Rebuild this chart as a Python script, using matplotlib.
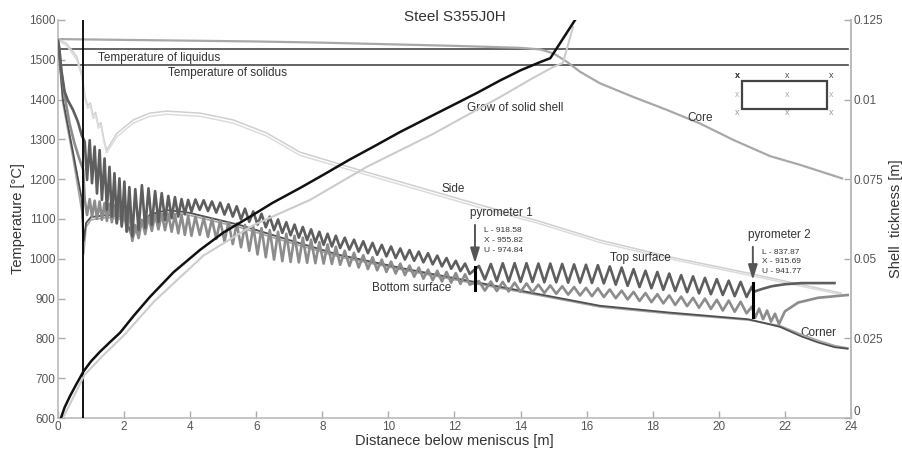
import numpy as np
import matplotlib
matplotlib.use("Agg")
import matplotlib.pyplot as plt

plt.rcParams['font.family'] = ['Liberation Sans', 'DejaVu Sans']

# --- dane ---
liquidus_T = 1527
solidus_T = 1487
mould_end = 0.76

# rdzen (Core)
core_x = [0, 2, 4, 6, 8, 10, 12, 14, 14.6, 15.0, 15.4, 15.8, 16.4, 17.4, 18.43, 19.43, 20.43, 21.55, 22.46, 23.73]
core_T = [1552, 1550, 1548, 1546, 1543, 1539, 1535, 1530, 1526, 1516, 1495, 1470, 1441, 1407, 1374, 1340, 1299, 1258, 1236, 1202]

# bok (Side) - dwie linie
side_x = [0, 0.26, 0.57, 0.72, 0.82, 0.9, 0.98, 1.06, 1.14, 1.22, 1.3, 1.38, 1.47, 1.78, 2.28, 2.78,
          3.29, 4.3, 5.3, 6.32, 7.32, 9.0, 11.0, 13.0, 14.5, 16.4, 18.5, 20.9, 22.5, 23.7]
side_T = [1552, 1541, 1508, 1466, 1407, 1385, 1392, 1360, 1368, 1335, 1342, 1305, 1273, 1315, 1349, 1366,
          1371, 1366, 1349, 1316, 1268, 1226, 1178, 1130, 1096, 1047, 1005, 964, 935, 914]
side2_T = [1548, 1536, 1500, 1458, 1400, 1378, 1385, 1352, 1360, 1328, 1335, 1298, 1266, 1306, 1341, 1358,
           1363, 1358, 1341, 1308, 1260, 1219, 1171, 1123, 1090, 1041, 1000, 959, 931, 910]

# naroze (Corner)
corner_x = [0, 0.15, 0.45, 0.72, 0.78, 0.85, 1.0, 1.5, 2.0, 2.25, 2.4, 2.8, 3.3, 3.8, 4.0, 5.5, 7.0,
            8.5, 10.5, 12.6, 14.5, 16.4, 18.5, 20.9, 21.85, 22.5, 23.0, 23.5, 23.9]
corner_T = [1545, 1400, 1270, 1150, 1045, 1090, 1105, 1110, 1105, 1060, 1080, 1112, 1122, 1118, 1115, 1085, 1047,
            1010, 975, 942, 912, 882, 865, 848, 829, 805, 790, 778, 774]
corner2_T = [1540, 1390, 1255, 1120, 1012, 1080, 1098, 1104, 1098, 1052, 1074, 1106, 1115, 1112, 1109, 1079, 1041,
             1005, 971, 938, 909, 879, 862, 846, 832, 810, 795, 782, 776]

# polozenia ekstremow (rolki)
crest_x = [0.81, 0.96, 1.11, 1.26, 1.41, 1.56, 1.71, 1.86, 2.01, 2.16,
           2.34, 2.54, 2.74, 2.94, 3.14, 3.34, 3.54, 3.74, 3.94,
           4.16, 4.41, 4.66, 4.91, 5.16, 5.41, 5.66, 5.91, 6.16, 6.41, 6.66, 6.91, 7.16, 7.41, 7.66, 7.91, 8.16, 8.41,
           8.68, 8.96, 9.24, 9.52, 9.80, 10.08, 10.36, 10.64, 10.92, 11.20, 11.48, 11.76, 12.04, 12.32,
           12.74, 13.10, 13.46, 13.82, 14.18, 14.54, 14.90, 15.26, 15.62, 15.98, 16.34, 16.70, 17.06, 17.42,
           17.78, 18.14, 18.50, 18.86, 19.22, 19.58, 19.94, 20.30, 20.66]
trough_x = [0.88, 1.03, 1.18, 1.33, 1.48, 1.63, 1.78, 1.93, 2.08, 2.25,
            2.44, 2.64, 2.84, 3.04, 3.24, 3.44, 3.64, 3.84, 4.04,
            4.29, 4.54, 4.79, 5.04, 5.29, 5.54, 5.79, 6.04, 6.29, 6.54, 6.79, 7.04, 7.29, 7.54, 7.79, 8.04, 8.29, 8.54,
            8.82, 9.10, 9.38, 9.66, 9.94, 10.22, 10.50, 10.78, 11.06, 11.34, 11.62, 11.90, 12.18, 12.46,
            12.92, 13.28, 13.64, 14.00, 14.36, 14.72, 15.08, 15.44, 15.80, 16.16, 16.52, 16.88, 17.24, 17.60,
            17.96, 18.32, 18.68, 19.04, 19.40, 19.76, 20.12, 20.48, 20.84]

# gorna powierzchnia (Top surface)
top_pre_x = [0, 0.04, 0.1, 0.2, 0.3, 0.45, 0.6, 0.72]
top_pre_T = [1548, 1530, 1475, 1420, 1398, 1375, 1345, 1310]
top_crest = [1294, 1298, 1282, 1273, 1252, 1231, 1215, 1202, 1194, 1180,
             1175, 1185, 1177, 1170, 1165, 1158, 1155, 1150, 1148,
             1149, 1147, 1144, 1141, 1137, 1132, 1126, 1119, 1113, 1106, 1099, 1092, 1086, 1080, 1074, 1068, 1063, 1058,
             1053, 1048, 1044, 1040, 1035, 1031, 1026, 1022, 1018, 1014, 1008, 1002, 995, 988,
             982, 987, 989, 989, 989, 988, 988, 987, 986, 985, 984, 981, 978, 974,
             970, 967, 963, 959, 956, 952, 949, 945, 942]
top_trough = [1198, 1190, 1164, 1148, 1123, 1106, 1089, 1081, 1068, 1056,
              1072, 1077, 1085, 1092, 1097, 1102, 1106, 1112, 1118,
              1123, 1120, 1116, 1111, 1106, 1099, 1093, 1086, 1079, 1072, 1065, 1059, 1053, 1047, 1041, 1035, 1031, 1027,
              1023, 1018, 1014, 1010, 1006, 1002, 998, 995, 991, 986, 981, 975, 969, 962,
              948, 944, 943, 942, 942, 941, 941, 940, 940, 939, 938, 935, 932, 929,
              926, 922, 919, 916, 913, 911, 909, 906, 904]
top_tail_x = [21.0, 21.05, 21.3, 21.6, 22.0, 22.5, 23.5]
top_tail_T = [930, 917, 924, 931, 936, 939, 939]

# dolna powierzchnia (Bottom surface)
bot_pre_x = [0, 0.04, 0.1, 0.2, 0.35, 0.5, 0.65, 0.76]
bot_pre_T = [1548, 1525, 1470, 1410, 1340, 1290, 1250, 1225]
bot_crest = [1148, 1150, 1146, 1144, 1140, 1138, 1135, 1132, 1128, 1120,
             1085, 1098, 1106, 1110, 1112, 1112, 1111, 1110, 1108,
             1106, 1103, 1100, 1096, 1092, 1089, 1085, 1081, 1077, 1072, 1068, 1063, 1058, 1053, 1048, 1042, 1036, 1030,
             1020, 1015, 1009, 1004, 998, 993, 988, 983, 978, 973, 970, 967, 964, 961,
             944, 943, 942, 940, 938, 935, 933, 931, 929, 927, 926, 923, 920, 917,
             914, 911, 908, 905, 902, 900, 897, 895, 892]
bot_trough = [1110, 1105, 1100, 1098, 1095, 1092, 1090, 1085, 1070, 1045,
              1052, 1062, 1070, 1074, 1072, 1068, 1064, 1060, 1058,
              1060, 1055, 1050, 1044, 1037, 1029, 1020, 1011, 1004, 998, 994, 992, 991, 990, 989, 988, 987, 985,
              982, 978, 974, 971, 967, 963, 959, 955, 950, 946, 943, 940, 937, 935,
              920, 919, 918, 917, 916, 914, 912, 910, 908, 906, 904, 901, 898, 894,
              891, 888, 884, 881, 877, 874, 870, 867, 863]
bot_tail_x = [21.0, 21.1, 21.22, 21.34, 21.46, 21.58, 21.7, 21.82, 22.0, 22.4, 23.0, 23.9]
bot_tail_T = [880, 852, 875, 848, 870, 842, 862, 836, 868, 890, 902, 909]

# narastanie naskorka (os prawa)
shell_x = [0.09, 0.2, 0.36, 0.55, 0.77, 1.0, 1.27, 1.55, 1.88, 2.3, 2.78, 3.5, 4.3, 5.0, 5.81, 6.5, 7.32,
           8.0, 8.8, 9.6, 10.35, 11.2, 12.0, 12.7, 13.38, 14.0, 14.6, 14.9, 15.65]
shell_th = [0, 0.0033, 0.0068, 0.0105, 0.0146, 0.0178, 0.0208, 0.0236, 0.0268, 0.0322, 0.038, 0.0458,
            0.0528, 0.0582, 0.0632, 0.0676, 0.0722, 0.0762, 0.081, 0.0855, 0.0898, 0.0943, 0.0985,
            0.1022, 0.106, 0.1092, 0.1118, 0.113, 0.125]
shell2_x = [0.15, 0.45, 0.8, 1.35, 2.0, 2.9, 4.4, 5.9, 7.63, 9.35, 11.35, 13.38, 14.38, 14.98, 15.28, 15.59]
shell2_th = [0, 0.0062, 0.0135, 0.0195, 0.026, 0.0365, 0.051, 0.0605, 0.0685, 0.0789, 0.0892, 0.1008,
             0.1068, 0.1102, 0.1115, 0.1228]

# pirometry
pyro_x = [12.62, 21.03]
pyro_names = ["pyrometer 1", "pyrometer 2"]
pyro_readings = [["L - 918.58", "X - 955.82", "U - 974.84"],
                 ["L - 837.87", "X - 915.69", "U - 941.77"]]

x_ticks = list(range(0, 25, 2))
y_ticks = list(range(600, 1601, 100))
th_ticks = [0, 0.025, 0.05, 0.075, 0.1, 0.125]
th_labels = ["0", "0.025", "0.05", "0.075", "0.01", "0.125"]


def zigzag(xc, xt, yc, yt):
    """Skleja grzbiety i doliny w jeden przebieg."""
    xs = np.column_stack([xc, xt]).ravel()
    ys = np.column_stack([yc, yt]).ravel()
    return xs, ys


fig = plt.figure(figsize=(9.03, 4.5), dpi=100)
ax = fig.add_axes([0.0642, 0.0711, 0.8782, 0.8845])
ax.set_xlim(0, 24)
ax.set_ylim(600, 1600)

# linie likwidus / solidus i koniec krystalizatora
ax.axhline(liquidus_T, xmax=0.996, color='#4a4a4a', lw=1.2, zorder=2)
ax.axhline(solidus_T, xmax=0.996, color='#4a4a4a', lw=1.2, zorder=2)
ax.axvline(mould_end, color='black', lw=1.3, zorder=6)

ax.plot(core_x, core_T, color='#a8a8a8', lw=1.6, zorder=3)
ax.plot(side_x, side_T, color='#cfcfcf', lw=1.1, zorder=3)
ax.plot(side_x, side2_T, color='#dcdcdc', lw=1.1, zorder=3)

ax.plot(corner_x, corner2_T, color='#a5a5a5', lw=1.2, zorder=4)
ax.plot(corner_x, corner_T, color='#505050', lw=1.3, zorder=4)

bx, by = zigzag(crest_x, trough_x, bot_crest, bot_trough)
ax.plot(np.concatenate([bot_pre_x, bx, bot_tail_x]), np.concatenate([bot_pre_T, by, bot_tail_T]),
        color='#8c8c8c', lw=1.9, solid_joinstyle='round', zorder=4)
tx, ty = zigzag(crest_x, trough_x, top_crest, top_trough)
ax.plot(np.concatenate([top_pre_x, tx, top_tail_x]), np.concatenate([top_pre_T, ty, top_tail_T]),
        color='#5e5e5e', lw=1.9, solid_joinstyle='round', zorder=5)

# pirometry
for px, name, reads, top, tip, bar in zip(pyro_x, pyro_names, pyro_readings,
                                           [1092, 1037], [982, 940], [(979, 922), (939, 854)]):
    ax.annotate('', xy=(px, tip), xytext=(px, top),
                arrowprops=dict(arrowstyle='-|>,head_length=0.9,head_width=0.28', color='#555555', lw=1.4))
    ax.plot([px, px], bar, color='black', lw=2.2, zorder=7)
    ax.text(px + 0.8, top + 8, name, fontsize=8.5, color='#333333', ha='center', va='bottom')
    for i, r in enumerate(reads):
        ax.text(px + 0.27, top - 20 - i * 25, r, fontsize=6, color='#333333', ha='left', va='center')

# opisy krzywych
ax.text(1.2, 1504, "Temperature of liquidus", fontsize=8.5, color='#333333', va='center')
ax.text(3.33, 1467, "Temperature of solidus", fontsize=8.5, color='#333333', va='center')
ax.text(12.38, 1379, "Grow of solid shell", fontsize=8.5, color='#333333', va='center')
ax.text(19.04, 1354, "Core", fontsize=8.5, color='#333333', va='center')
ax.text(11.6, 1175, "Side", fontsize=8.5, color='#333333', va='center')
ax.text(16.7, 1002, "Top surface", fontsize=8.5, color='#333333', va='center')
ax.text(9.5, 927, "Bottom surface", fontsize=8.5, color='#333333', va='center')
ax.text(22.46, 813, "Corner", fontsize=8.5, color='#333333', va='center')
ax.text(12.0, 1607, "Steel S355J0H", fontsize=11, color='#333333', ha='center', va='center')

# schemat przekroju (wstawka)
ax.add_patch(plt.Rectangle((0.8625, 0.7764), 0.1072, 0.0703, transform=ax.transAxes,
                           fill=False, ec='#444444', lw=1.6, zorder=6))
for (mx, my, mc) in [(0.8562, 0.8593, '#222222'), (0.9193, 0.8593, '#555555'), (0.9748, 0.8593, '#444444'),
                     (0.8562, 0.8116, '#b0b0b0'), (0.9193, 0.8116, '#b0b0b0'), (0.9748, 0.8116, '#b0b0b0'),
                     (0.8562, 0.7663, '#999999'), (0.9193, 0.7663, '#999999'), (0.9748, 0.7663, '#999999')]:
    ax.text(mx, my, 'x', transform=ax.transAxes, fontsize=6.5, color=mc, ha='center', va='center',
            fontweight='bold' if mc == '#222222' else 'normal')

ax.set_xticks(x_ticks)
ax.set_yticks(y_ticks)
ax.set_xlabel("Distanece below meniscus [m]", fontsize=10.5, color='#333333', labelpad=1)
ax.set_ylabel("Temperature [°C]", fontsize=10.5, color='#333333', labelpad=3)
ax.tick_params(direction='in', length=5, width=1, color='#aaaaaa', labelcolor='#555555', labelsize=8.5, pad=2)

for s in ['left', 'bottom', 'right']:
    ax.spines[s].set_color('#bbbbbb')
    ax.spines[s].set_linewidth(1.2)
ax.spines['top'].set_visible(False)

ax2 = ax.twinx()
ax2.set_ylim(0, 0.125)
ax2.plot(shell2_x, shell2_th, color='#cccccc', lw=1.5)
ax2.plot(shell_x, shell_th, color='#111111', lw=1.8)
ax2.set_yticks(th_ticks)
ax2.set_yticklabels(th_labels)
ax2.get_yticklabels()[0].set_va('bottom')
ax2.set_ylabel("Shell  tickness [m]", fontsize=10.5, color='#333333', labelpad=4)
ax2.tick_params(direction='in', length=5, width=1, color='#aaaaaa', labelcolor='#555555', labelsize=8.5, pad=2)
for s in ['left', 'top', 'bottom']:
    ax2.spines[s].set_visible(False)
ax2.spines['right'].set_color('#bbbbbb')
ax2.spines['right'].set_linewidth(1.2)

fig.savefig("out.png", dpi=100)
